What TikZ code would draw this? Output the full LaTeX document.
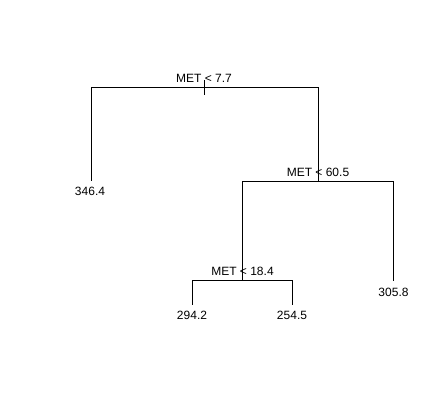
\documentclass[tikz,border=0pt]{standalone}
\usepackage{fontspec}
\setmainfont{Liberation Sans}
\begin{document}
\begin{tikzpicture}[x=1pt,y=-1pt,
  edge/.style={line width=1pt,line cap=rect},
  lbl/.style={font=\fontsize{12}{14}\selectfont,anchor=base,inner sep=0pt}]
\useasboundingbox (0,0) rectangle (446,412);
% split points
\coordinate (rL) at (91,87);
\coordinate (rR) at (318,87);
\coordinate (t1) at (204,80);
\coordinate (t2) at (204,94);
\coordinate (n2L) at (242,181);
\coordinate (n2R) at (393,181);
\coordinate (n3L) at (192,280);
\coordinate (n3R) at (292,280);
\coordinate (leafA) at (91,180);
\coordinate (n2c) at (318,181);
\coordinate (n3c) at (242,280);
\coordinate (leafD) at (393,280);
\coordinate (leafB) at (192,304);
\coordinate (leafC) at (292,304);
% texts
\node[lbl] (s1) at (204,82) {MET < 7.7};
\node[lbl] (s2) at (318,176.5) {MET < 60.5};
\node[lbl] (s3) at (242.5,275.5) {MET < 18.4};
\node[lbl] (l1) at (90,195) {346.4};
\node[lbl] (l2) at (192,319) {294.2};
\node[lbl] (l3) at (292,319) {254.5};
\node[lbl] (l4) at (393.5,296) {305.8};
% edges
\draw[edge] (leafA) -- (rL) -- (rR) -- (n2c);
\draw[edge] (t1) -- (t2);
\draw[edge] (n3c) -- (n2L) -- (n2R) -- (leafD);
\draw[edge] (leafB) -- (n3L) -- (n3R) -- (leafC);
\end{tikzpicture}
\end{document}
